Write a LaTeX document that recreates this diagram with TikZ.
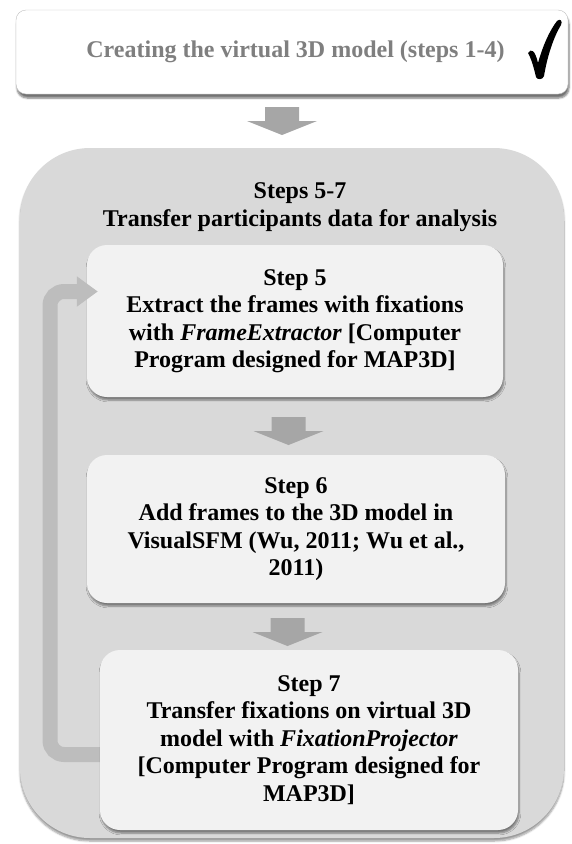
\documentclass[tikz,border=0pt]{standalone}
\usepackage{fontspec}
\setmainfont{Liberation Serif}
\usetikzlibrary{arrows.meta}
\usetikzlibrary{shadows.blur}

\definecolor{panelgray}{HTML}{D9D9D9}
\definecolor{boxgray}{HTML}{F2F2F2}
\definecolor{arrowgray}{HTML}{A6A6A6}
\definecolor{loopgray}{HTML}{BDBDBD}
\definecolor{textgray}{HTML}{7F7F7F}

\tikzset{
  steptext/.style={font=\fontsize{24}{27.5}\selectfont\bfseries, align=center},
  stepbox/.style={steptext, fill=boxgray, rounded corners=20pt, inner sep=0pt,
    blur shadow={shadow xshift=1pt, shadow yshift=-3pt, shadow opacity=45, shadow blur steps=6}},
}

\begin{document}
\begin{tikzpicture}[x=1pt, y=-1pt]
      \useasboundingbox (0,0) rectangle (572,844);

      % stage already done
      \node[steptext, text=textgray, draw=gray!50, fill=white, rounded corners=10pt,
        minimum width=552pt, minimum height=84pt, inner sep=0pt,
        blur shadow={shadow xshift=1pt, shadow yshift=-4pt, shadow opacity=55, shadow blur steps=6}]
        (done) at (292,52) {\hspace{7pt}Creating the virtual 3D model (steps 1-4)};
      \fill (528,53) .. controls (531,48) and (535,50) .. (538,63)
        .. controls (543,45) and (550,30) .. (557,21)
        .. controls (560,18) and (563,21) .. (561,25)
        .. controls (553,38) and (547,58) .. (544,76)
        .. controls (543,80) and (537,80) .. (536,77)
        .. controls (534,68) and (531,58) .. (528,53) -- cycle;

      % panel with steps 5-7
      \node[fill=panelgray, rounded corners=70pt, minimum width=544pt, minimum height=690pt,
        inner sep=0pt, blur shadow={shadow xshift=0pt, shadow yshift=-3pt, shadow opacity=40, shadow blur steps=6}]
        (panel) at (292,493) {};
      \node[steptext] (title) at (300,207) {Steps 5-7\\Transfer participants data for analysis};

      % loop back from step 7 to step 5
      \node[stepbox, minimum width=416pt, minimum height=152pt] (s5) at (295,321)
        {Step 5\\Extract the frames with fixations\\with \textit{FrameExtractor} {[}Computer\\Program designed for MAP3D{]}};
      \draw[loopgray, line width=15pt, rounded corners=14pt, -{Triangle[length=21pt, width=29pt]}]
        (110,754.5) -- (50,754.5) -- (50,291.5) -- ([xshift=11pt, yshift=29.5pt]s5.west);
      \node[stepbox, minimum width=418pt, minimum height=148pt] (s6) at (296,529)
        {Step 6\\Add frames to the 3D model in\\VisualSFM (Wu, 2011; Wu et al.,\\2011)};
      \node[stepbox, minimum width=418pt, minimum height=180pt] (s7) at (309,740)
        {Step 7\\Transfer fixations on virtual 3D\\model with \textit{FixationProjector}\\{[}Computer Program designed for\\MAP3D{]}};

      % block arrows between the stages
      \foreach \ax/\ay in {282/107, 288.5/417, 287.5/618}
        \fill[arrowgray] (\ax-17,\ay) -- (\ax+17,\ay) -- (\ax+17,\ay+14) -- (\ax+35,\ay+14)
          -- (\ax,\ay+28) -- (\ax-35,\ay+14) -- (\ax-17,\ay+14) -- cycle;

    \end{tikzpicture}
\end{document}
